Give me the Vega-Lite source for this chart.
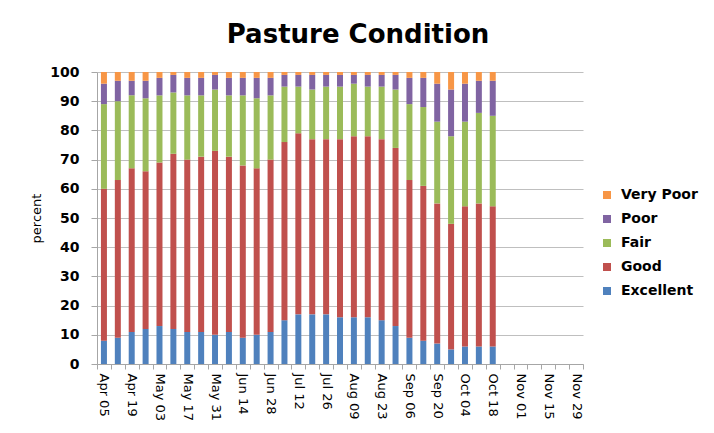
{
  "$schema": "https://vega.github.io/schema/vega-lite/v6.json",
  "autosize": {"type": "none"},
  "width": 486,
  "height": 292,
  "padding": {"left": 97, "top": 72, "right": 131, "bottom": 69},
  "background": "white",
  "title": {
    "text": "Pasture Condition",
    "font": "DejaVu Sans",
    "fontSize": 26,
    "fontWeight": "bold",
    "color": "#000000",
    "anchor": "middle",
    "frame": "group",
    "dx": 18,
    "offset": 17
  },
  "datasets": {
    "conditions": [
      {"condition": "Excellent", "rank": 1},
      {"condition": "Good", "rank": 2},
      {"condition": "Fair", "rank": 3},
      {"condition": "Poor", "rank": 4},
      {"condition": "Very Poor", "rank": 5}
    ]
  },
  "data": {
    "values": [
      {"week": "Apr 05", "Excellent": 8, "Good": 52, "Fair": 29, "Poor": 7, "Very Poor": 4},
      {"week": "Apr 12", "Excellent": 9, "Good": 54, "Fair": 27, "Poor": 7, "Very Poor": 3},
      {"week": "Apr 19", "Excellent": 11, "Good": 56, "Fair": 25, "Poor": 5, "Very Poor": 3},
      {"week": "Apr 26", "Excellent": 12, "Good": 54, "Fair": 25, "Poor": 6, "Very Poor": 3},
      {"week": "May 03", "Excellent": 13, "Good": 56, "Fair": 23, "Poor": 6, "Very Poor": 2},
      {"week": "May 10", "Excellent": 12, "Good": 60, "Fair": 21, "Poor": 6, "Very Poor": 1},
      {"week": "May 17", "Excellent": 11, "Good": 59, "Fair": 22, "Poor": 6, "Very Poor": 2},
      {"week": "May 24", "Excellent": 11, "Good": 60, "Fair": 21, "Poor": 6, "Very Poor": 2},
      {"week": "May 31", "Excellent": 10, "Good": 63, "Fair": 21, "Poor": 5, "Very Poor": 1},
      {"week": "Jun 07", "Excellent": 11, "Good": 60, "Fair": 21, "Poor": 6, "Very Poor": 2},
      {"week": "Jun 14", "Excellent": 9, "Good": 59, "Fair": 24, "Poor": 6, "Very Poor": 2},
      {"week": "Jun 21", "Excellent": 10, "Good": 57, "Fair": 24, "Poor": 7, "Very Poor": 2},
      {"week": "Jun 28", "Excellent": 11, "Good": 59, "Fair": 22, "Poor": 6, "Very Poor": 2},
      {"week": "Jul 05", "Excellent": 15, "Good": 61, "Fair": 19, "Poor": 4, "Very Poor": 1},
      {"week": "Jul 12", "Excellent": 17, "Good": 62, "Fair": 16, "Poor": 4, "Very Poor": 1},
      {"week": "Jul 19", "Excellent": 17, "Good": 60, "Fair": 17, "Poor": 5, "Very Poor": 1},
      {"week": "Jul 26", "Excellent": 17, "Good": 60, "Fair": 18, "Poor": 4, "Very Poor": 1},
      {"week": "Aug 02", "Excellent": 16, "Good": 61, "Fair": 18, "Poor": 4, "Very Poor": 1},
      {"week": "Aug 09", "Excellent": 16, "Good": 62, "Fair": 18, "Poor": 3, "Very Poor": 1},
      {"week": "Aug 16", "Excellent": 16, "Good": 62, "Fair": 17, "Poor": 4, "Very Poor": 1},
      {"week": "Aug 23", "Excellent": 15, "Good": 62, "Fair": 18, "Poor": 4, "Very Poor": 1},
      {"week": "Aug 30", "Excellent": 13, "Good": 61, "Fair": 20, "Poor": 5, "Very Poor": 1},
      {"week": "Sep 06", "Excellent": 9, "Good": 54, "Fair": 26, "Poor": 9, "Very Poor": 2},
      {"week": "Sep 13", "Excellent": 8, "Good": 53, "Fair": 27, "Poor": 10, "Very Poor": 2},
      {"week": "Sep 20", "Excellent": 7, "Good": 48, "Fair": 28, "Poor": 13, "Very Poor": 4},
      {"week": "Sep 27", "Excellent": 5, "Good": 43, "Fair": 30, "Poor": 16, "Very Poor": 6},
      {"week": "Oct 04", "Excellent": 6, "Good": 48, "Fair": 29, "Poor": 13, "Very Poor": 4},
      {"week": "Oct 11", "Excellent": 6, "Good": 49, "Fair": 31, "Poor": 11, "Very Poor": 3},
      {"week": "Oct 18", "Excellent": 6, "Good": 48, "Fair": 31, "Poor": 12, "Very Poor": 3}
    ]
  },
  "transform": [
    {"fold": ["Excellent", "Good", "Fair", "Poor", "Very Poor"], "as": ["condition", "percent"]},
    {"lookup": "condition", "from": {"data": {"name": "conditions"}, "key": "condition", "fields": ["rank"]}}
  ],
  "mark": {"type": "bar", "width": 6},
  "encoding": {
    "x": {
      "field": "week",
      "type": "nominal",
      "sort": null,
      "scale": {
        "domain": ["Apr 05","Apr 12","Apr 19","Apr 26","May 03","May 10","May 17","May 24","May 31","Jun 07","Jun 14","Jun 21","Jun 28","Jul 05","Jul 12","Jul 19","Jul 26","Aug 02","Aug 09","Aug 16","Aug 23","Aug 30","Sep 06","Sep 13","Sep 20","Sep 27","Oct 04","Oct 11","Oct 18","Oct 25","Nov 01","Nov 08","Nov 15","Nov 22","Nov 29"],
        "paddingInner": 0,
        "paddingOuter": 0
      },
      "axis": {
        "title": null,
        "labelAngle": 90,
        "labelAlign": "left",
        "labelBaseline": "middle",
        "labelFont": "DejaVu Sans",
        "labelFontSize": 13,
        "labelColor": "#000000",
        "labelPadding": 4,
        "labelOverlap": false,
        "labelExpr": "indexof(['Apr 05','Apr 19','May 03','May 17','May 31','Jun 14','Jun 28','Jul 12','Jul 26','Aug 09','Aug 23','Sep 06','Sep 20','Oct 04','Oct 18','Nov 01','Nov 15','Nov 29'], datum.value) >= 0 ? datum.label : ''",
        "tickBand": "extent",
        "tickSize": 5,
        "tickColor": "#A6A6A6",
        "domainColor": "#A6A6A6",
        "grid": false
      }
    },
    "y": {
      "field": "percent",
      "type": "quantitative",
      "stack": "zero",
      "scale": {"domain": [0, 100], "nice": false},
      "axis": {
        "title": "percent",
        "titleFont": "DejaVu Sans",
        "titleFontSize": 13,
        "titleFontWeight": "normal",
        "titleColor": "#000000",
        "titlePadding": 6,
        "values": [0,10,20,30,40,50,60,70,80,90,100],
        "labelFont": "DejaVu Sans",
        "labelFontSize": 14,
        "labelFontWeight": "bold",
        "labelColor": "#000000",
        "labelPadding": 12,
        "tickSize": 6,
        "tickColor": "#A6A6A6",
        "domainColor": "#A6A6A6",
        "grid": true,
        "gridColor": "#BFBFBF"
      }
    },
    "color": {
      "field": "condition",
      "type": "nominal",
      "sort": ["Very Poor", "Poor", "Fair", "Good", "Excellent"],
      "scale": {
        "domain": ["Very Poor", "Poor", "Fair", "Good", "Excellent"],
        "range": ["#F79646", "#8064A2", "#9BBB59", "#C0504D", "#4F81BD"]
      },
      "legend": {
        "title": null,
        "orient": "none",
        "legendX": 503,
        "legendY": 116,
        "symbolType": "square",
        "symbolSize": 64,
        "symbolStrokeWidth": 0,
        "labelFont": "DejaVu Sans",
        "labelFontSize": 14,
        "labelFontWeight": "bold",
        "labelColor": "#000000",
        "labelOffset": 7,
        "rowPadding": 10
      }
    },
    "order": {"field": "rank", "type": "quantitative", "sort": "ascending"}
  },
  "config": {"view": {"stroke": null}}
}
